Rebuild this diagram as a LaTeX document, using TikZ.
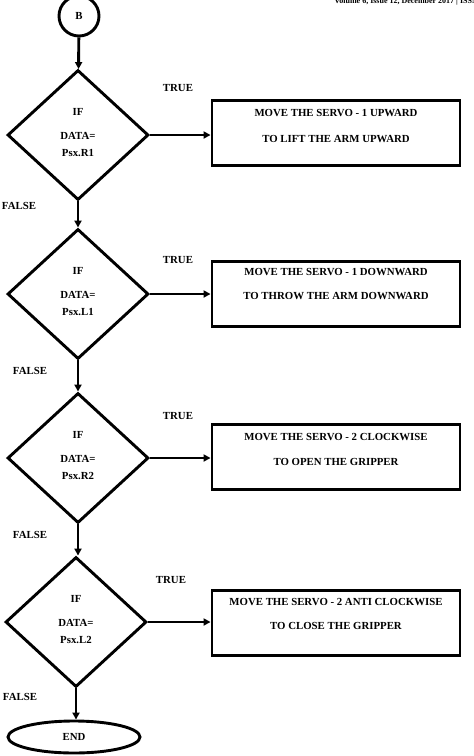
\documentclass[tikz,border=0pt]{standalone}
\usepackage{fontspec}
\setmainfont{Liberation Serif}
\usetikzlibrary{shapes.geometric,arrows.meta}
\begin{document}
\begin{tikzpicture}[x=1pt,y=-1pt,
  every node/.style={font=\bfseries\fontsize{10.8}{12}\selectfont},
  thick line/.style={line width=2.9pt},
  decision/.style={draw,thick line,diamond,minimum width=141pt,minimum height=130pt,inner sep=0pt,align=center},
  action/.style={draw,thick line,rectangle,minimum width=248pt,minimum height=65pt,inner sep=0pt},
  flow/.style={thick line,-{Triangle[length=7pt,width=7pt]}},
  lbl/.style={inner sep=0pt}]
\useasboundingbox (0,0) rectangle (474,756);
\clip (0,0) rectangle (474,756);
% header (cropped, as in the reference)
\node[lbl,anchor=base east,font=\bfseries\fontsize{8}{9}\selectfont] (hdr) at (478,3.5) {Volume 6, Issue 12, December 2017 | ISSN};
% start connector
\node[draw,thick line,circle,minimum size=40pt,inner sep=0pt] (B) at (79,16) {B};
% decisions
\node[decision] (d1) at (78,135) {};
\node[decision] (d2) at (78,294) {};
\node[decision] (d3) at (78,458) {};
\node[decision] (d4) at (76,622) {};
% decision texts
\foreach \d/\t in {d1/Psx.R1,d2/Psx.L1,d3/Psx.R2,d4/Psx.L2}{
  \node[lbl] (\d if) at ([yshift=23pt]\d.center) {IF};
  \node[lbl] (\d data) at ([yshift=-1pt]\d.center) {DATA=};
  \node[lbl] (\d psx) at ([yshift=-18pt]\d.center) {\t};
}
% actions
\node[action] (a1) at (336,133) {};
\node[action] (a2) at (336,294) {};
\node[action] (a3) at (336,457) {};
\node[action] (a4) at (336,623) {};
\node[lbl] (a1l1) at (336,113) {MOVE THE SERVO - 1 UPWARD};
\node[lbl] (a1l2) at (336,139) {TO LIFT THE ARM UPWARD};
\node[lbl] (a2l1) at (336,272) {MOVE THE SERVO - 1 DOWNWARD};
\node[lbl] (a2l2) at (336,296) {TO THROW THE ARM DOWNWARD};
\node[lbl] (a3l1) at (336,437) {MOVE THE SERVO - 2 CLOCKWISE};
\node[lbl] (a3l2) at (336,462) {TO OPEN THE GRIPPER};
\node[lbl] (a4l1) at (336,602) {MOVE THE SERVO - 2 ANTI CLOCKWISE};
\node[lbl] (a4l2) at (336,626) {TO CLOSE THE GRIPPER};
% end
\node[draw,thick line,ellipse,minimum width=132pt,minimum height=32pt,inner sep=0pt] (E) at (74,737) {END};
% labels
\node[lbl] (t1) at (178,88) {TRUE};
\node[lbl] (t2) at (178,260) {TRUE};
\node[lbl] (t3) at (178,416) {TRUE};
\node[lbl] (t4) at (171,580) {TRUE};
\node[lbl] (f1) at (19,206) {FALSE};
\node[lbl] (f2) at (30,371) {FALSE};
\node[lbl] (f3) at (30,535) {FALSE};
\node[lbl] (f4) at (20,697) {FALSE};
% connectors
\draw[flow] (B) -- (d1);
\draw[flow] (d1) -- (d2);
\draw[flow] (d2) -- (d3);
\draw[flow] (d3.south) -- (d3.south |- d4.north);
\draw[flow] (d4.south) -- (d4.south |- E.north);
\draw[flow] (d1.east) -- (d1.east -| a1.west);
\draw[flow] (d2.east) -- (a2.west);
\draw[flow] (d3.east) -- (d3.east -| a3.west);
\draw[flow] (d4.east) -- (d4.east -| a4.west);
\end{tikzpicture}
\end{document}
